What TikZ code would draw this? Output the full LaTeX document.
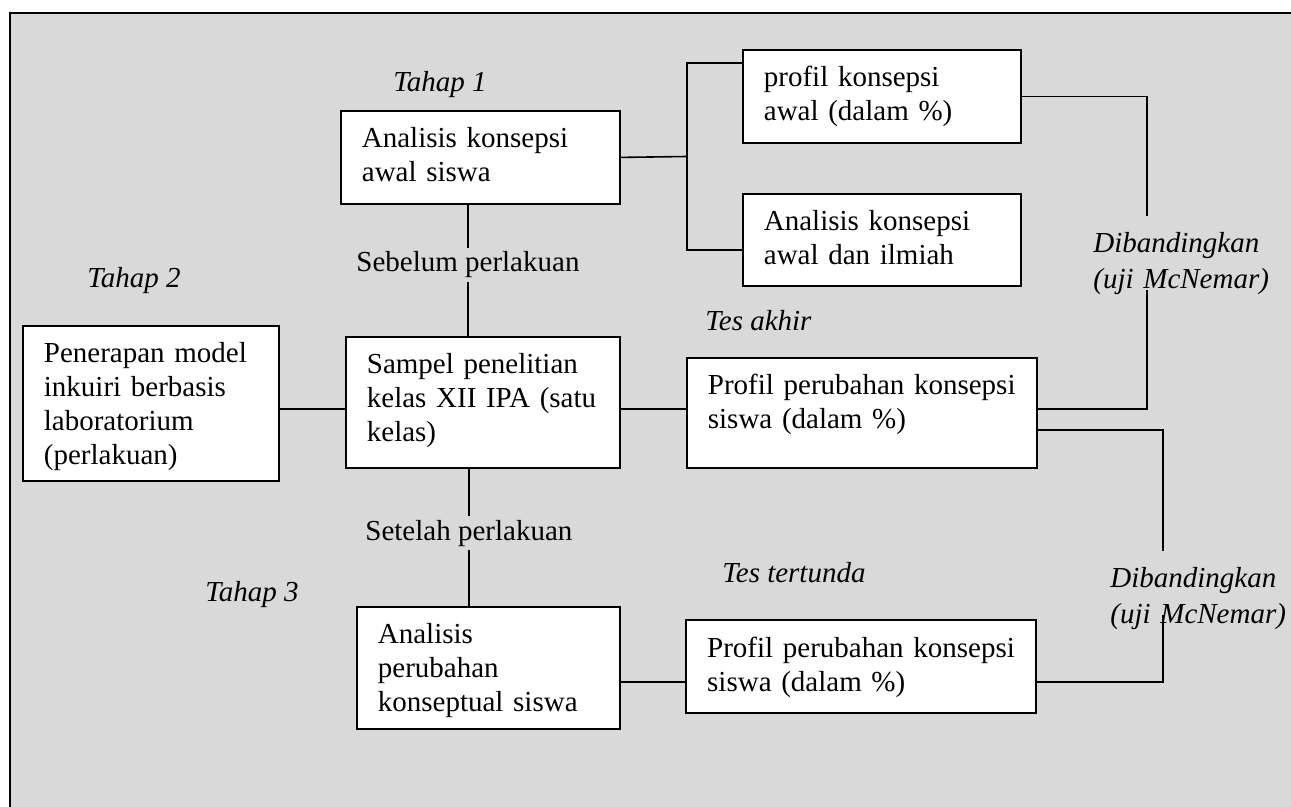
\documentclass[tikz,border=0pt]{standalone}
\usepackage{fontspec}
\setmainfont{Liberation Serif}
\definecolor{panel}{RGB}{217,217,217}

\tikzset{
  kotak/.style={draw,fill=white,line width=0.9pt,anchor=north west,align=left,
    inner xsep=10.5pt,inner ysep=0pt,text height=18.5pt,
    font=\fontsize{14.5}{17}\selectfont},
  tahap/.style={anchor=base west,inner sep=0pt,font=\fontsize{14.5}{17}\selectfont\itshape},
  antara/.style={anchor=base west,inner xsep=0pt,inner ysep=1.5pt,font=\fontsize{14.5}{17}\selectfont},
  banding/.style={anchor=north west,inner sep=0pt,align=left,text width=95pt,text height=10pt,
    font=\fontsize{14.5}{18}\selectfont\itshape},
  garis/.style={line width=0.8pt}
}

\begin{document}
\begin{tikzpicture}[x=1pt,y=-1pt]
	\useasboundingbox (0,0) rectangle (645.5,403.5);
	\fill[white] (0,0) rectangle (645.5,403.5);
	\fill[panel] (5,6.5) rectangle (645.5,403.5);
	\draw[line width=0.9pt] (5,403.5) -- (5,6.5) -- (645.5,6.5);

	% tahap
	\node[tahap] (t1) at (196.5,46) {Tahap 1};
	\node[tahap] (t2) at (43.5,144) {Tahap 2};
	\node[tahap] (t3) at (102.5,301) {Tahap 3};
	\node[tahap] (tesakhir) at (352.5,165.5) {Tes akhir};
	\node[tahap] (testunda) at (361,291) {Tes tertunda};

	% kotak
	\node[kotak,text width=118.5pt,text depth=28pt] (awal) at (170,55) {Analisis konsepsi\\awal siswa};
	\node[kotak,text width=118pt,text depth=28pt] (profil) at (371,24.5) {profil konsepsi\\awal (dalam \%)};
	\node[kotak,text width=118pt,text depth=27.5pt] (ilmiah) at (371,96.5) {Analisis konsepsi\\awal dan ilmiah};
	\node[kotak,text width=107pt,text depth=59pt] (terap) at (11,162.5) {Penerapan model\\inkuiri berbasis\\laboratorium\\(perlakuan)};
	\node[kotak,text width=116pt,text depth=47pt] (sampel) at (172.5,168) {Sampel penelitian\\kelas XII IPA (satu\\kelas)};
	\node[kotak,text width=154pt,text depth=36.5pt] (akhir) at (343,178.5) {Profil perubahan konsepsi\\siswa (dalam \%)};
	\node[kotak,text width=110.5pt,text depth=42.5pt] (ubah) at (178,303) {Analisis\\perubahan\\konseptual siswa};
	\node[kotak,text width=154pt,text depth=28pt,line width=1.2pt] (tunda) at (342.5,309.5) {Profil perubahan konsepsi\\siswa (dalam \%)};

	% label garis
	\node[antara] (sebelum) at (178,136) {Sebelum perlakuan};
	\node[antara] (setelah) at (182.5,270) {Setelah perlakuan};
	\node[banding] (band1) at (546.5,116) {Dibandingkan\\(uji McNemar)};
	\node[banding] (band2) at (555,283.5) {Dibandingkan\\(uji McNemar)};

	\coordinate (cab) at (343.5,78.25);
	\coordinate (tengah) at (0,204.5);
	\coordinate (bawah) at (0,341);
	\coordinate (b1a) at (573.5,108);
	\coordinate (b1b) at (573.5,145);
	\coordinate (b2a) at (581.5,275.5);
	\coordinate (b2b) at (581.5,307.5);

	\draw[garis] (awal.east) -- (cab);
	\draw[garis] ([yshift=-7pt]profil.north west) -| (cab) |- ([yshift=-5pt]ilmiah.west);
	\draw[garis] (sebelum |- awal.south) -- (sebelum);
	\draw[garis] (sebelum) -- (sebelum |- sampel.north);
	\draw[garis] (sampel.south -| setelah) -- (setelah);
	\draw[garis] (setelah) -- (setelah |- ubah.north);
	\draw[garis] (terap.east |- tengah) -- (sampel.west |- tengah);
	\draw[garis] (sampel.east |- tengah) -- (akhir.west |- tengah);
	\draw[garis] (ubah.east |- bawah) -- (tunda.west |- bawah);
	\draw[garis] (profil.east) -| (b1a);
	\draw[garis] (b1b) |- ([yshift=2pt]akhir.east);
	\draw[garis] ([yshift=-8.5pt]akhir.east) -| (b2a);
	\draw[garis] (b2b) |- (tunda.east |- bawah);
\end{tikzpicture}
\end{document}
